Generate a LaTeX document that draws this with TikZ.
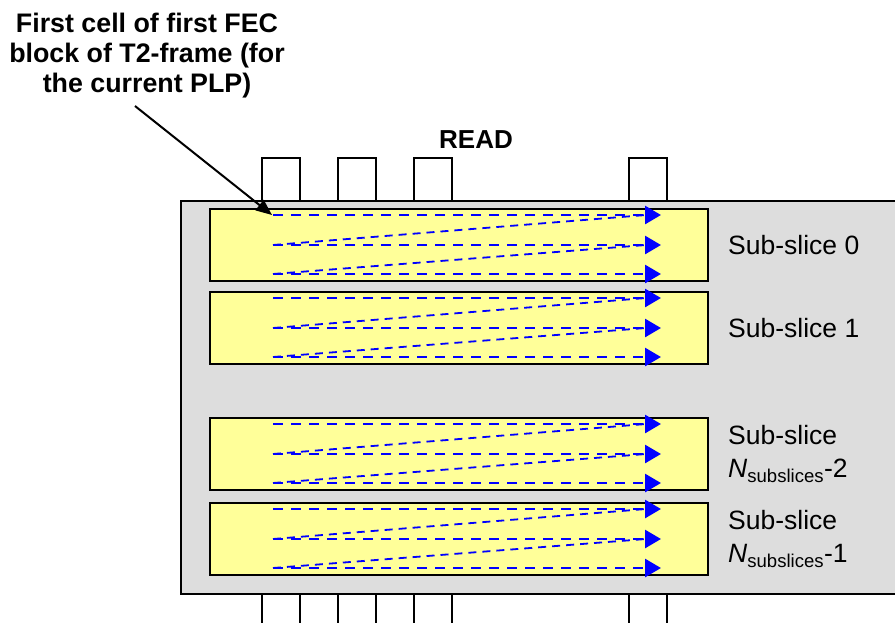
\documentclass[tikz,border=0pt]{standalone}
\usepackage{fontspec}
\setmainfont{Liberation Sans}
\usetikzlibrary{arrows.meta}
\definecolor{framegray}{HTML}{DDDDDD}
\definecolor{slicefill}{HTML}{FFFF99}

\begin{document}
\begin{tikzpicture}[x=1pt,y=-1pt,
  frame/.style={draw=black,line width=2pt},
  slicebox/.style={frame,fill=slicefill},
  readrow/.style={blue,line width=2.8pt,dash pattern=on 10pt off 8pt,-{Triangle[length=16pt,width=18pt]}},
  readback/.style={blue,line width=1.8pt,dash pattern=on 8pt off 6pt},
  lbl/.style={font=\fontsize{26.5}{33}\selectfont,inner sep=0pt}]
\path[use as bounding box] (0,0) rectangle (895,622);
\begin{scope}
\clip (0,0) rectangle (895,622);
\draw[frame,fill=framegray] (181,201) rectangle (920,594);
\foreach \x in {262,338,414,629} {
  \draw[frame,fill=white] (\x,158) rectangle ++(38,43);
  \draw[frame] (\x,594) rectangle ++(38,50);
}
\end{scope}
% sub-slices, three read rows each
\foreach \t in {209,292,418,503} {
  \draw[slicebox] (210,\t) rectangle (708,\t+72);
  \draw[readback] (273,\t+36) -- (646,\t+6);
  \draw[readback] (273,\t+65) -- (646,\t+36);
  \foreach \r in {6,36,65}
    \draw[readrow] (273,\t+\r) -- (661,\t+\r);
}
\node[lbl,anchor=west] (slice0) at (728,245) {Sub-slice 0};
\node[lbl,anchor=west] (slice1) at (728,328) {Sub-slice 1};
\node[lbl,anchor=west,align=left] (sliceN2) at (728,454) {Sub-slice\\\textit{N}\textsubscript{subslices}-2};
\node[lbl,anchor=west,align=left] (sliceN1) at (728,539) {Sub-slice\\\textit{N}\textsubscript{subslices}-1};
\node[lbl,font=\bfseries\fontsize{26}{33}\selectfont] (read) at (476,140) {READ};
\node[lbl,font=\bfseries\fontsize{26.8}{30}\selectfont,align=center,anchor=north] (firstlabel) at (147,13) {First cell of first FEC\\block of T2-frame (for\\the current PLP)};
\coordinate (ptrstart) at (135,106);
\coordinate (firstcell) at (272,215);
\draw[line width=2pt,-{Triangle[length=16pt,width=13pt]}] (ptrstart) -- (firstcell);
\end{tikzpicture}
\end{document}
